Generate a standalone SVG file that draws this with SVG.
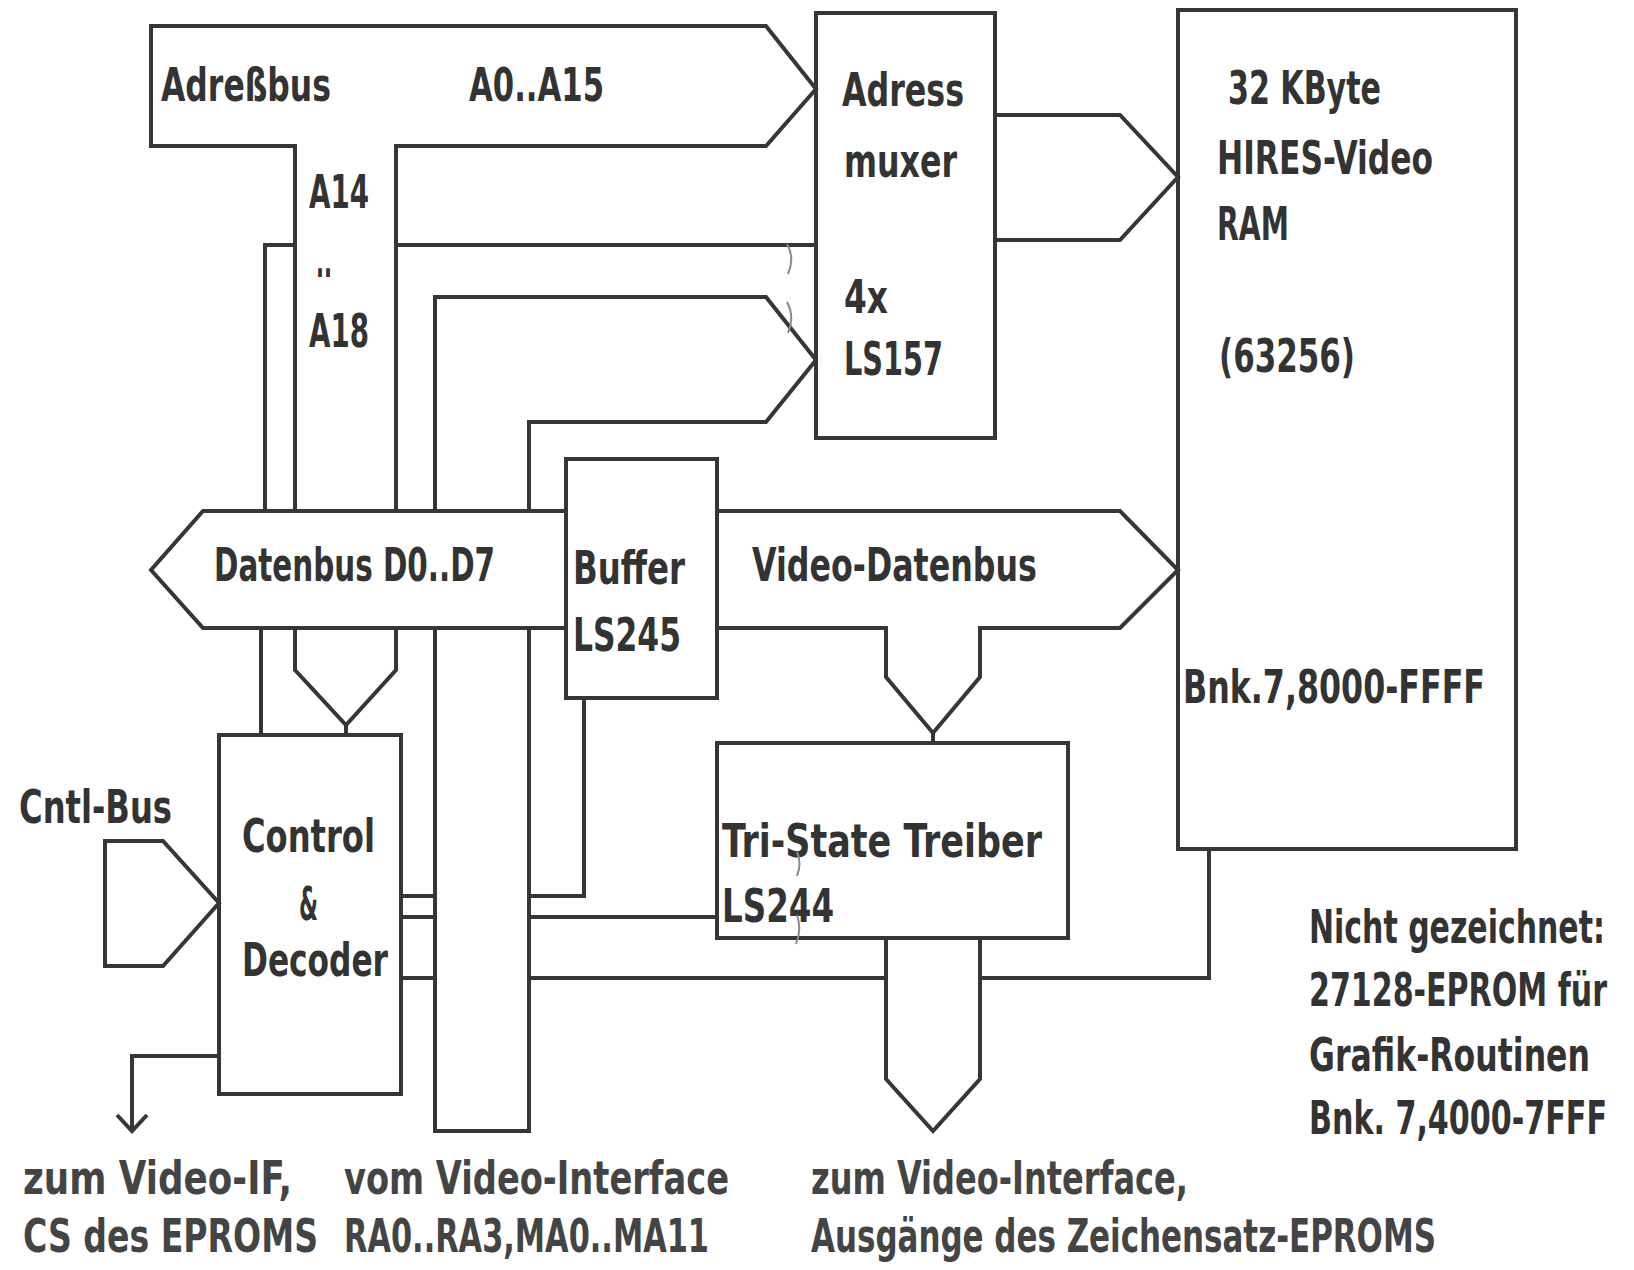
<svg xmlns="http://www.w3.org/2000/svg" width="1634" height="1270" viewBox="0 0 1634 1270">
<style>
.ln{fill:none;stroke:#363636;stroke-width:4;stroke-linejoin:miter}
.box{fill:none;stroke:#363636;stroke-width:4}
.t{font-family:"DejaVu Sans Condensed","DejaVu Sans","Liberation Sans",sans-serif;font-size:46px;font-weight:bold;fill:#333}
.b{fill:#444}
.mk{fill:none;stroke:#8a8a8a;stroke-width:2}
</style>
<rect width="1634" height="1270" fill="#ffffff"/>

<g id="adressbus">
<path class="ln" d="M295 511 V146 H151 V26 H766 L816 89 L766 146 H396 V511"/>
<path class="ln" d="M295 628 V670 L346 725 L396 670 V628 M346 725 V735"/>
<text class="t" x="161" y="101" textLength="170" lengthAdjust="spacingAndGlyphs">Adreßbus</text>
<text class="t" x="469" y="101" textLength="135" lengthAdjust="spacingAndGlyphs">A0..A15</text>
<text class="t" x="309" y="208" textLength="60" lengthAdjust="spacingAndGlyphs">A14</text>
<text class="t" x="316" y="277" textLength="16" lengthAdjust="spacingAndGlyphs">..</text>
<text class="t" x="309" y="347" textLength="60" lengthAdjust="spacingAndGlyphs">A18</text>
</g>

<g id="muxer">
<rect class="box" x="816" y="13" width="179" height="425"/>
<text class="t" x="842" y="106" textLength="122" lengthAdjust="spacingAndGlyphs">Adress</text>
<text class="t" x="844" y="177" textLength="113" lengthAdjust="spacingAndGlyphs">muxer</text>
<text class="t" x="844" y="313" textLength="44" lengthAdjust="spacingAndGlyphs">4x</text>
<text class="t" x="844" y="375" textLength="99" lengthAdjust="spacingAndGlyphs">LS157</text>
</g>

<g id="ram">
<rect class="box" x="1178" y="10" width="338" height="839"/>
<text class="t" x="1228" y="104" textLength="153" lengthAdjust="spacingAndGlyphs">32 KByte</text>
<text class="t" x="1217" y="174" textLength="216" lengthAdjust="spacingAndGlyphs">HIRES-Video</text>
<text class="t" x="1217" y="240" textLength="72" lengthAdjust="spacingAndGlyphs">RAM</text>
<text class="t" x="1219" y="372" textLength="136" lengthAdjust="spacingAndGlyphs">(63256)</text>
<text class="t" x="1183" y="703" textLength="302" lengthAdjust="spacingAndGlyphs">Bnk.7,8000-FFFF</text>
</g>

<g id="ram-adressbus">
<path class="ln" d="M995 115 H1120 L1178 177 L1120 240 H995"/>
</g>

<g id="datenbus">
<path class="ln" d="M566 511 H203 L151 570 L203 628 H566"/>
<text class="t" x="214" y="581" textLength="281" lengthAdjust="spacingAndGlyphs">Datenbus D0..D7</text>
</g>

<g id="buffer">
<rect class="box" x="566" y="459" width="151" height="239"/>
<text class="t" x="573" y="584" textLength="112" lengthAdjust="spacingAndGlyphs">Buffer</text>
<text class="t" x="573" y="651" textLength="108" lengthAdjust="spacingAndGlyphs">LS245</text>
</g>

<g id="videodatenbus">
<path class="ln" d="M717 511 H1120 L1178 570 L1120 628 H980 V677 L933 733 L886 677 V628 H717 M933 733 V743"/>
<text class="t" x="752" y="581" textLength="285" lengthAdjust="spacingAndGlyphs">Video-Datenbus</text>
</g>

<g id="tristate">
<rect class="box" x="717" y="743" width="351" height="195"/>
<text class="t" x="722" y="857" textLength="320" lengthAdjust="spacingAndGlyphs">Tri-State Treiber</text>
<text class="t" x="722" y="922" textLength="112" lengthAdjust="spacingAndGlyphs">LS244</text>
</g>

<g id="control">
<rect class="box" x="219" y="735" width="182" height="359"/>
<text class="t" x="242" y="852" textLength="133" lengthAdjust="spacingAndGlyphs">Control</text>
<text class="t" x="299" y="920" textLength="19" lengthAdjust="spacingAndGlyphs">&amp;</text>
<text class="t" x="242" y="976" textLength="146" lengthAdjust="spacingAndGlyphs">Decoder</text>
</g>

<g id="cntlbus">
<path class="ln" d="M105 841 H163 L219 903 L163 966 H105 Z"/>
<text class="t" x="19" y="823" textLength="153" lengthAdjust="spacingAndGlyphs">Cntl-Bus</text>
</g>

<g id="vom-video-interface">
<path class="ln" d="M435 511 V297 H766 L816 360 L766 422 H529 V511"/>
<path class="ln" d="M435 628 V1131 H529 V628"/>
<text class="t b" x="344" y="1194" textLength="385" lengthAdjust="spacingAndGlyphs">vom Video-Interface</text>
<text class="t b" x="344" y="1252" textLength="365" lengthAdjust="spacingAndGlyphs">RA0..RA3,MA0..MA11</text>
</g>

<g id="zum-video-interface">
<path class="ln" d="M886 938 V1079 L933 1131 L980 1079 V938"/>
<text class="t b" x="811" y="1194" textLength="377" lengthAdjust="spacingAndGlyphs">zum Video-Interface,</text>
<text class="t b" x="811" y="1252" textLength="625" lengthAdjust="spacingAndGlyphs">Ausgänge des Zeichensatz-EPROMS</text>
</g>

<g id="zum-video-if">
<text class="t b" x="23" y="1194" textLength="269" lengthAdjust="spacingAndGlyphs">zum Video-IF,</text>
<text class="t b" x="23" y="1252" textLength="295" lengthAdjust="spacingAndGlyphs">CS des EPROMS</text>
</g>

<g id="note">
<text class="t" x="1309" y="943" textLength="296" lengthAdjust="spacingAndGlyphs">Nicht gezeichnet:</text>
<text class="t" x="1309" y="1006" textLength="298" lengthAdjust="spacingAndGlyphs">27128-EPROM für</text>
<text class="t" x="1309" y="1071" textLength="281" lengthAdjust="spacingAndGlyphs">Grafik-Routinen</text>
<text class="t" x="1309" y="1134" textLength="298" lengthAdjust="spacingAndGlyphs">Bnk. 7,4000-7FFF</text>
</g>

<g id="connectors">
<path class="ln" d="M265 511 V245 H295 M396 245 H816 M261 628 V735"/>
<path class="ln" d="M401 896 H435 M529 896 H584 V698"/>
<path class="ln" d="M401 917 H435 M529 917 H717"/>
<path class="ln" d="M401 978 H435 M529 978 H886 M980 978 H1209 V849"/>
<path class="ln" d="M219 1056 H132 V1131 M117 1115 L132 1131 L147 1115"/>
<path class="mk" d="M787 244 Q795 258 788 274 M787 302 Q795 317 788 333 M797 852 Q802 863 797 876 M797 915 Q802 929 796 944"/>
</g>
</svg>
